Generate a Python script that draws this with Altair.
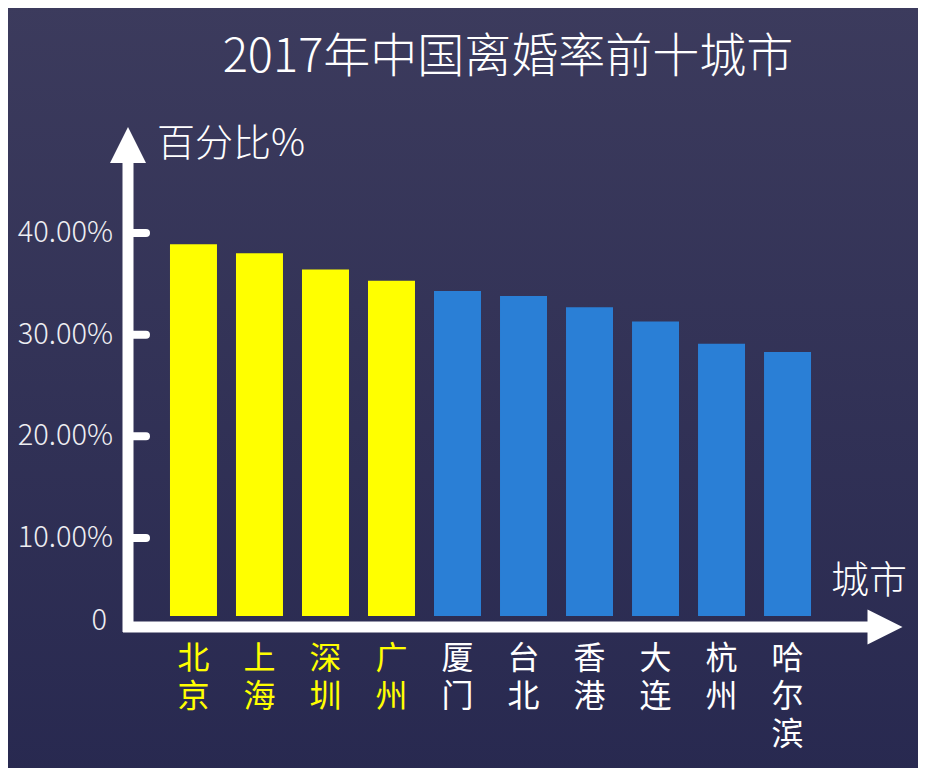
import altair as alt
import pandas as pd

cities = ["北京", "上海", "深圳", "广州", "厦门", "台北", "香港", "大连", "杭州", "哈尔滨"]
rates = [38.9, 38.0, 36.4, 35.3, 34.3, 33.8, 32.7, 31.3, 29.1, 28.3]
top4 = [True, True, True, True, False, False, False, False, False, False]
y_ticks = [10, 20, 30, 40]
y_tick_labels = ["10.00%", "20.00%", "30.00%", "40.00%"]

FONT = "Noto Sans CJK SC"
W, H = 725, 488

df = pd.DataFrame({
    "city": cities,
    "rate": rates,
    "top": top4,
    "label": ["\n".join(list(c)) for c in cities],
})
ticks_df = pd.DataFrame({"v": y_ticks, "lab": y_tick_labels})
one = pd.DataFrame({"k": [0]})

xenc = alt.X("city:N", sort=cities, axis=None,
             scale=alt.Scale(paddingInner=0.288, paddingOuter=0.636))
yscale = alt.Scale(domain=[2.33, 50.33], zero=False, nice=False)

bg = alt.Chart(one).mark_rect(
    color=alt.Gradient(gradient="linear",
                       stops=[alt.GradientStop(offset=0, color="#3c3b5d"),
                              alt.GradientStop(offset=1, color="#282950")],
                       x1=0, x2=0, y1=0, y2=1)
).encode(x=alt.value(-130), x2=alt.value(800), y=alt.value(-130), y2=alt.value(650))

bars = alt.Chart(df).mark_bar(clip=True).encode(
    x=xenc,
    y=alt.Y("rate:Q", scale=yscale, title=None, axis=None),
    color=alt.condition(alt.datum.top, alt.value("#ffff00"), alt.value("#2a7fd6")),
)

yline = alt.Chart(one).mark_rule(color="white", strokeWidth=11).encode(
    x=alt.value(0), y=alt.value(34), y2=alt.value(504))
xline = alt.Chart(one).mark_rule(color="white", strokeWidth=11).encode(
    x=alt.value(-5), x2=alt.value(742), y=alt.value(499))
yarrow = alt.Chart(one).mark_point(shape="M-1,1L0,-1L1,1Z", filled=True, opacity=1,
                                   color="white", size=1296, strokeWidth=0).encode(
    x=alt.value(0), y=alt.value(17))
xarrow = alt.Chart(one).mark_point(shape="M-1,-1L1,0L-1,1Z", filled=True, opacity=1,
                                   color="white", size=1225, strokeWidth=0).encode(
    x=alt.value(757), y=alt.value(499))

ticks = alt.Chart(ticks_df).mark_rule(color="white", strokeWidth=8, strokeCap="round").encode(
    y=alt.Y("v:Q", scale=yscale, axis=None), x=alt.value(5), x2=alt.value(18))

tick_labels = alt.Chart(ticks_df).mark_text(font=FONT, fontSize=29, fontWeight=300,
                                            color="#eeeef2", align="right",
                                            baseline="middle").encode(
    y=alt.Y("v:Q", scale=yscale, axis=None), x=alt.value(-15), text="lab:N")

zero = alt.Chart(one).mark_text(text="0", font=FONT, fontSize=29, fontWeight=300,
                                color="#eeeef2", align="right", baseline="middle").encode(
    x=alt.value(-21), y=alt.value(493))

xlabels = alt.Chart(df).mark_text(font=FONT, fontSize=32, lineBreak="\n", lineHeight=38,
                                  baseline="top", align="center").encode(
    x=xenc, y=alt.value(516), text="label:N",
    color=alt.condition(alt.datum.top, alt.value("#ffff00"), alt.value("#ffffff")))

title = alt.Chart(one).mark_text(text="2017年中国离婚率前十城市", font=FONT, fontSize=47,
                                 fontWeight=300, color="white", align="center",
                                 baseline="middle").encode(
    x=alt.value(380), y=alt.value(-70))
ytitle = alt.Chart(one).mark_text(text="百分比%", font=FONT, fontSize=38, fontWeight=300,
                                  color="white", align="left", baseline="middle").encode(
    x=alt.value(29), y=alt.value(17))
xtitle = alt.Chart(one).mark_text(text="城市", font=FONT, fontSize=38, fontWeight=300,
                                  color="white", align="left", baseline="middle").encode(
    x=alt.value(703), y=alt.value(454))

chart = alt.layer(bg, bars, yline, xline, yarrow, xarrow, ticks, tick_labels, zero, xlabels,
                  title, ytitle, xtitle).properties(
    width=W, height=H,
    autosize=alt.AutoSizeParams(type="none"),
    padding={"left": 120, "top": 120, "right": 65, "bottom": 152},
    background="#33335a",
).configure_view(stroke=None)

chart.save("out.html", embed_options={"renderer": "svg", "actions": False})
